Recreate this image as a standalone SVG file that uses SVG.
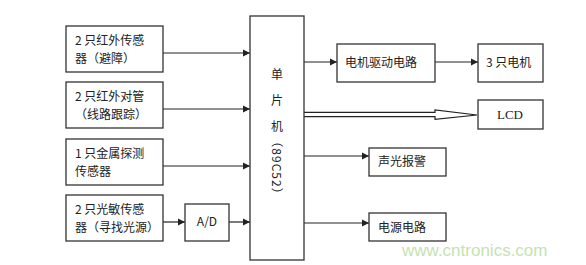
<svg xmlns="http://www.w3.org/2000/svg" width="586" height="265" viewBox="0 0 586 265">
<defs>
<style>
.box{fill:#fff;stroke:#333;stroke-width:1.3}
.ln{stroke:#222;stroke-width:1.2;fill:none}
.t{font-family:"Noto Sans CJK SC","Liberation Sans",sans-serif;font-size:12px;fill:#222}
.s{font-family:"Liberation Serif","Noto Sans CJK SC",serif;font-size:13px;fill:#222}
</style>
<marker id="ah" markerWidth="8" markerHeight="8" refX="7" refY="4" orient="auto" markerUnits="userSpaceOnUse">
<path d="M0,0.5 L7,4 L0,7.5 z" fill="#222"/>
</marker>
</defs>
<rect width="586" height="265" fill="#fff"/>
<g id="connectors">
<line class="ln" x1="163" y1="53" x2="250" y2="53" marker-end="url(#ah)"/>
<line class="ln" x1="163" y1="109" x2="250" y2="109" marker-end="url(#ah)"/>
<line class="ln" x1="163" y1="166" x2="250" y2="166" marker-end="url(#ah)"/>
<line class="ln" x1="163" y1="222" x2="185" y2="222" marker-end="url(#ah)"/>
<line class="ln" x1="229" y1="222" x2="250" y2="222" marker-end="url(#ah)"/>
<line class="ln" x1="304" y1="62" x2="337" y2="62" marker-end="url(#ah)"/>
<line class="ln" x1="435" y1="62" x2="478" y2="62" marker-end="url(#ah)"/>
<path class="ln" d="M304,112.3 L435,112.3 L435,110 L477,115 L435,119.3 L435,116.7 L304,116.7"/>
<line class="ln" x1="304" y1="156" x2="369" y2="156" marker-end="url(#ah)"/>
<line class="ln" x1="304" y1="223" x2="369" y2="223" marker-end="url(#ah)"/>
</g>
<g id="n1"><rect class="box" x="66" y="26" width="97" height="46"/>
<text class="t" x="75" y="45">2 只红外传感</text><text class="t" x="75" y="63">器（避障）</text></g>
<g id="n2"><rect class="box" x="66" y="82" width="97" height="46"/>
<text class="t" x="75" y="101">2 只红外对管</text><text class="t" x="75" y="119">（线路跟踪）</text></g>
<g id="n3"><rect class="box" x="66" y="139" width="97" height="46"/>
<text class="t" x="75" y="158">1 只金属探测</text><text class="t" x="75" y="176">传感器</text></g>
<g id="n4"><rect class="box" x="66" y="195" width="97" height="46"/>
<text class="t" x="75" y="214">2 只光敏传感</text><text class="t" x="75" y="232">器（寻找光源）</text></g>
<g id="ad"><rect class="box" x="185" y="204" width="44" height="37"/>
<text class="t" x="207" y="226" text-anchor="middle">A/D</text></g>
<g id="mcu"><rect class="box" x="250" y="16" width="54" height="244"/>
<text class="t" x="277" y="79" text-anchor="middle" font-size="15">单</text>
<text class="t" x="277" y="105" text-anchor="middle" font-size="15">片</text>
<text class="t" x="277" y="131" text-anchor="middle" font-size="15">机</text>
<text class="t" transform="translate(272,168) rotate(90)" text-anchor="middle" font-size="15" letter-spacing="1">（89C52）</text></g>
<g id="motordrv"><rect class="box" x="337" y="44" width="98" height="38"/>
<text class="t" x="345" y="67" font-size="13">电机驱动电路</text></g>
<g id="motors"><rect class="box" x="478" y="44" width="65" height="38"/>
<text class="t" x="486" y="67" font-size="13">3 只电机</text></g>
<g id="lcd"><rect class="box" x="478" y="100" width="65" height="29"/>
<text class="s" x="510" y="119" text-anchor="middle">LCD</text></g>
<g id="alarm"><rect class="box" x="369" y="148" width="77" height="28"/>
<text class="t" x="378" y="166" font-size="13">声光报警</text></g>
<g id="power"><rect class="box" x="369" y="213" width="77" height="28"/>
<text class="t" x="378" y="232" font-size="13">电源电路</text></g>
<text x="402" y="256" font-family="Liberation Sans,sans-serif" font-size="17" fill="#c5e3b0">www.cntronics.com</text>
</svg>
